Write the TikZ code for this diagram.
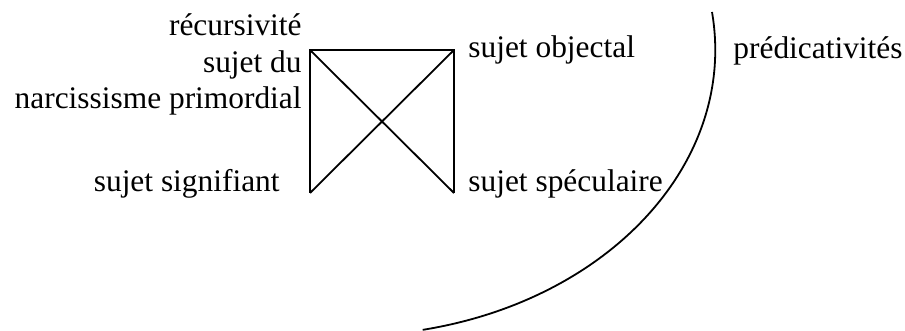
\documentclass[tikz,border=0pt]{standalone}
\usepackage{fontspec}
\setmainfont{Liberation Serif}
\usetikzlibrary{positioning}

\begin{document}
\begin{tikzpicture}[
    x=0.5pt, y=-0.5pt,
    trait/.style={line width=0.9pt},
    lbl/.style={inner sep=0pt, font=\fontsize{15.7}{18.25}\selectfont}
]
\useasboundingbox (0,0) rectangle (905,331);

% le carre croise
\coordinate (hg) at (310,50);
\coordinate (hd) at (454,50);
\coordinate (bg) at (310,193);
\coordinate (bd) at (454,193);
\draw[trait] (bg) -- (hg) -- (hd) -- (bd);
\draw[trait] (hg) -- (bd);
\draw[trait] (bg) -- (hd);

\node[lbl, anchor=base east, align=right] (narcissisme) at (302,109) {récursivité\\sujet du\\narcissisme primordial};
\node[lbl, anchor=base east] (signifiant) at (280,192) {sujet signifiant};
\node[lbl, anchor=base west] (objectal) at (468,58) {sujet objectal};
\node[lbl, anchor=base west] (speculaire) at (468,192) {sujet spéculaire};
\node[lbl, anchor=base west] (predicativites) at (733,59) {prédicativités};

% l'arc
\coordinate (arcdebut) at (712,12);
\draw[trait] (arcdebut) arc[start angle=-7.6, end angle=78.3, x radius=367, y radius=286];
\end{tikzpicture}
\end{document}
